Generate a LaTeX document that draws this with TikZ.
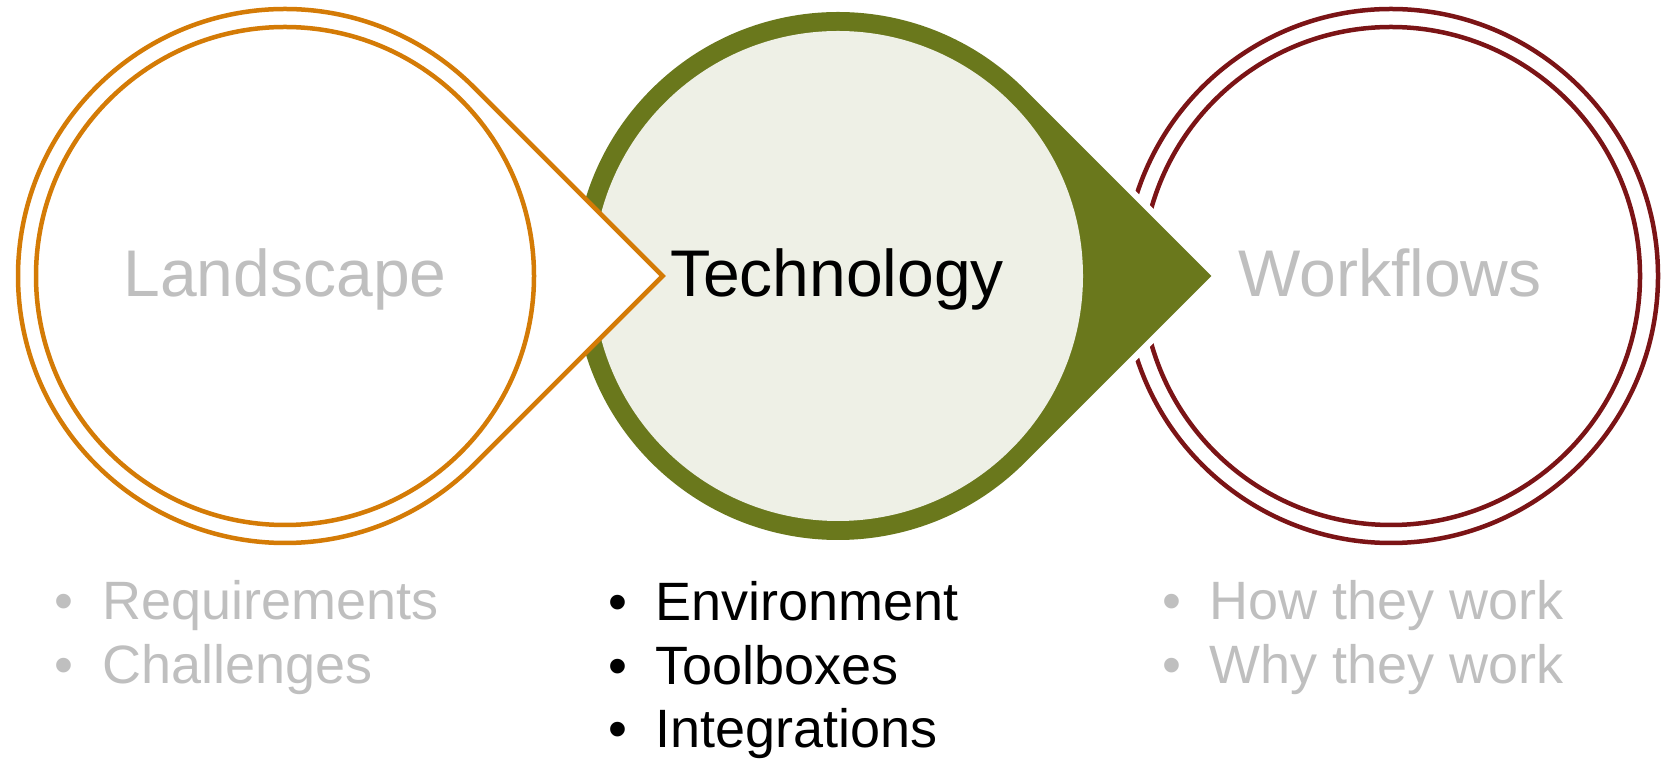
\documentclass[tikz,border=0pt]{standalone}
\usepackage{fontspec}
\setmainfont{Liberation Sans}
\usetikzlibrary{calc}
\definecolor{orangeL}{HTML}{D47B06}
\definecolor{greenM}{HTML}{6A781C}
\definecolor{lightM}{HTML}{EEF0E6}
\definecolor{maroonR}{HTML}{7B1416}
\definecolor{grayT}{HTML}{BFBFBF}
\begin{document}
\begin{tikzpicture}[x=1pt,y=1pt,
  title/.style={font=\fontsize{66}{79}\selectfont, inner sep=0pt, anchor=base},
  item/.style={font=\fontsize{54}{64}\selectfont, inner sep=0pt, anchor=base west},
  dot/.style={font=\fontsize{54}{64}\selectfont, inner sep=0pt, anchor=base},
  ring/.style={line width=4.5pt}]
\useasboundingbox (0,0) rectangle (1665,760);
% right double circle
\draw[ring, maroonR] (1391,484) circle[radius=267];
\draw[ring, maroonR] (1391,484) circle[radius=249];
% green teardrop with white halo
\draw[white, line width=13pt, line join=miter] ($(838,484)+(45:264)$) arc[start angle=45,end angle=315,radius=264] -- (1211.4,484) -- cycle;
\fill[greenM] ($(838,484)+(45:264)$) arc[start angle=45,end angle=315,radius=264] -- (1211.4,484) -- cycle;
\fill[lightM] (838,484) circle[radius=245];
% orange teardrop
\draw[ring, orangeL, fill=white] ($(285,484)+(45:267)$) arc[start angle=45,end angle=315,radius=267] -- (662.6,484) -- cycle;
\draw[ring, orangeL] (285,484) circle[radius=249];
% titles
\node[title, text=grayT] (land) at (285,463) {Landscape};
\node[title, text=black] (tech) at (837,463) {Technology};
\node[title, text=grayT] (work) at (1390,463) {Workflows};
% left list
\node[dot, text=grayT] (l1d) at (64,140) {•};
\node[item, text=grayT] (l1) at (102,140) {Requirements};
\node[dot, text=grayT] (l2d) at (64,76) {•};
\node[item, text=grayT] (l2) at (102,76) {Challenges};
% middle list
\node[dot, text=black] (m1d) at (618,139) {•};
\node[item, text=black] (m1) at (655,139) {Environment};
\node[dot, text=black] (m2d) at (618,75.5) {•};
\node[item, text=black] (m2) at (655,75.5) {Toolboxes};
\node[dot, text=black] (m3d) at (618,12) {•};
\node[item, text=black] (m3) at (655,12) {Integrations};
% right list
\node[dot, text=grayT] (r1d) at (1172,140) {•};
\node[item, text=grayT] (r1) at (1209,140) {How they work};
\node[dot, text=grayT] (r2d) at (1172,76) {•};
\node[item, text=grayT] (r2) at (1209,76) {Why they work};
\end{tikzpicture}
\end{document}
